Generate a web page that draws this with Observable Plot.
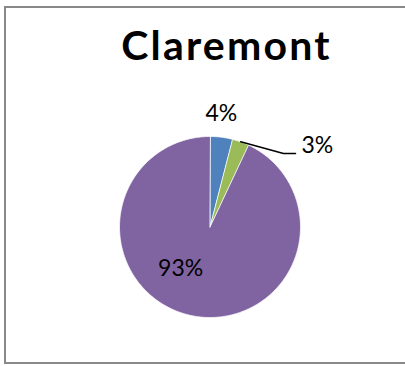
<!DOCTYPE html>
<html>
<head>
<meta charset="utf-8">
<script src="https://cdn.jsdelivr.net/npm/d3@7"></script>
<script src="https://cdn.jsdelivr.net/npm/@observablehq/plot@0.6"></script>
<style>
  html, body { margin: 0; padding: 0; background: #fff; overflow: hidden; }
  #chart { position: relative; width: 405px; height: 366px; overflow: hidden; }
  #border {
    position: absolute; left: 4px; top: 6px; width: 460px; height: 358px;
    box-sizing: border-box; border: 2px solid #898989;
  }
  #title {
    position: relative; width: 453px; height: 70px; box-sizing: border-box;
    padding-top: 24px; text-align: center;
    font-family: Lato, "Open Sans", sans-serif; font-weight: bold;
    font-size: 41px; letter-spacing: 2.2px; line-height: 1; color: #000;
  }
  #plot { position: relative; }
</style>
</head>
<body>
<div id="chart">
  <div id="border"></div>
  <div id="title">Claremont</div>
  <div id="plot"></div>
</div>
<script>
// Pie slices, drawn clockwise from 12 o'clock
const categories = ["Category 1", "Category 2", "Category 3"];
const shares = [4, 3, 93];
const sliceLabels = ["4%", "3%", "93%"];
const sliceColors = ["#4F81BD", "#9BBB59", "#8064A2"];

const arcs = d3.pie().sort(null).value((d, i) => shares[i])(categories);

// Polygon outline of each slice on the unit circle (x right, y up)
const outline = arcs.flatMap((a) => {
  const steps = Math.max(2, Math.ceil((a.endAngle - a.startAngle) / (Math.PI / 180)));
  const pts = [{key: a.data, x: 0, y: 0}];
  for (let k = 0; k <= steps; ++k) {
    const t = a.startAngle + (a.endAngle - a.startAngle) * (k / steps);
    pts.push({key: a.data, x: Math.sin(t), y: Math.cos(t)});
  }
  return pts;
});

const mid = (a) => (a.startAngle + a.endAngle) / 2;
const onRay = (a, r) => ({x: r * Math.sin(mid(a)), y: r * Math.cos(mid(a))});

// Small slice label sits just outside its arc
const outsideLabel = [{...onRay(arcs[0], 1.26), text: sliceLabels[0]}];
// Large slice label sits inside the slice
const insideLabel = [{...onRay(arcs[2], 0.6), text: sliceLabels[2]}];

// Leader line from the middle of the second slice out to its label
const start = onRay(arcs[1], 1.0);
const elbow = {x: start.x + 0.473, y: start.y - 0.129};
const end = {x: elbow.x + 0.133, y: elbow.y, text: sliceLabels[1]};
const leader = [start, elbow, end];

const labelFont = {fontSize: 23, fill: "black"};

const chart = Plot.plot({
  width: 405,
  height: 296,
  margin: 0,
  x: {domain: [-2.315, 2.16], axis: null},
  y: {domain: [-1.541, 1.729], axis: null},
  color: {domain: categories, range: sliceColors},
  style: {fontFamily: "Lato, 'Open Sans', sans-serif", background: "transparent"},
  marks: [
    Plot.line(outline, {
      x: "x", y: "y", z: "key", fill: "key",
      stroke: "white", strokeWidth: 0.75, curve: "linear-closed"
    }),
    Plot.line(leader, {x: "x", y: "y", stroke: "black", strokeWidth: 1.5}),
    Plot.text(outsideLabel, {x: "x", y: "y", text: "text", dx: -3, ...labelFont}),
    Plot.text(insideLabel, {x: "x", y: "y", text: "text", dx: -17.5, dy: -11, ...labelFont}),
    Plot.text([end], {
      x: "x", y: "y", text: "text", textAnchor: "start", dx: 6, dy: -8, ...labelFont
    })
  ]
});

document.getElementById("plot").append(chart);
</script>
</body>
</html>
